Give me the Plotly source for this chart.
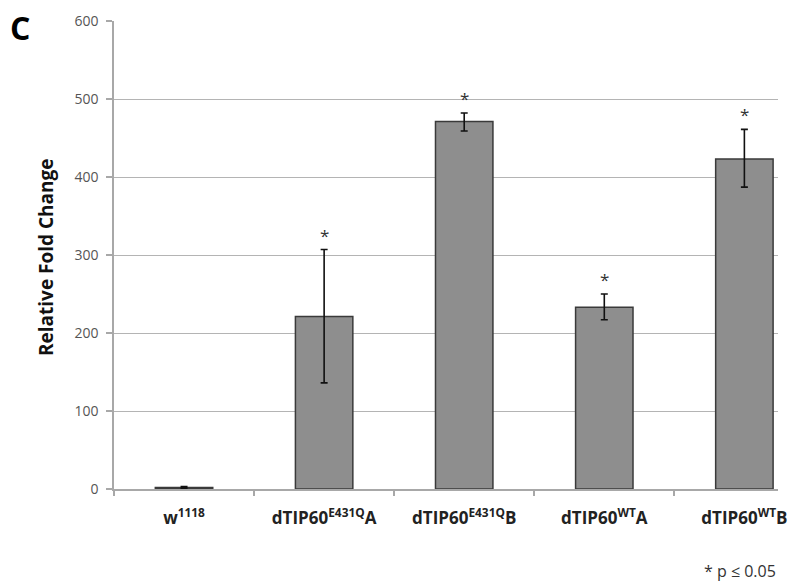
import plotly.graph_objects as go

categories = ["w<sup>1118</sup>", "dTIP60<sup>E431Q</sup>A", "dTIP60<sup>E431Q</sup>B",
              "dTIP60<sup>WT</sup>A", "dTIP60<sup>WT</sup>B"]
values = [2, 221, 471, 233, 423]
err_plus = [1, 86, 11, 17, 38]
err_minus = [1, 85, 12, 16, 36]
significant = [False, True, True, True, True]
y_ticks = [0, 100, 200, 300, 400, 500, 600]

fig = go.Figure()
fig.add_trace(go.Bar(
    x=categories, y=values, width=0.41,
    marker=dict(color="#8e8e8e", line=dict(color="#3a3a3a", width=1.5)),
    error_y=dict(type="data", array=err_plus, arrayminus=err_minus, symmetric=False,
                 color="#111111", thickness=1.6, width=3.5),
    showlegend=False,
))

for c, v, e, s in zip(categories, values, err_plus, significant):
    if s:
        fig.add_annotation(x=c, y=v + e, text="*", showarrow=False, yanchor="bottom",
                           yshift=1, font=dict(family="Open Sans", size=17, color="#333333"))

PW, PH, L, T = 664, 468.6, 114, 20.7


def px(x, y):
    return (x - L) / PW, (T + PH - y) / PH


x0, y0 = px(46, 257)
fig.add_annotation(text="Relative Fold Change", xref="paper", yref="paper",
                   x=x0, y=y0, showarrow=False, textangle=-90,
                   xanchor="center", yanchor="middle",
                   font=dict(family="Open Sans", size=19, color="#111111", weight="bold"))
x0, y0 = px(20, 27)
fig.add_annotation(text="C", xref="paper", yref="paper", x=x0, y=y0, showarrow=False,
                   xanchor="center", yanchor="middle",
                   font=dict(family="Open Sans", size=32, color="#000000", weight="bold"))
x0, y0 = px(740, 571)
fig.add_annotation(text="* p ≤ 0.05", xref="paper", yref="paper", x=x0, y=y0,
                   showarrow=False, xanchor="center", yanchor="middle",
                   font=dict(family="Open Sans", size=16, color="#333333"))

fig.update_layout(
    width=804, height=584,
    margin=dict(l=114, r=26, t=21, b=95, pad=0),
    plot_bgcolor="white", paper_bgcolor="white",
    xaxis=dict(
        type="category", range=[-0.5, 4.24],
        showline=True, linecolor="#a8a8a8", linewidth=1.5,
        ticks="outside", tickson="boundaries", ticklen=5, tickcolor="#a8a8a8", tickwidth=1.5,
        showgrid=False, ticklabelstandoff=13,
        tickfont=dict(family="Open Sans", size=17, color="#222222", weight="bold"),
    ),
    yaxis=dict(
        range=[0, 600], tickvals=y_ticks,
        showline=True, linecolor="#a8a8a8", linewidth=1.5,
        ticks="outside", ticklen=6, tickcolor="#a8a8a8", tickwidth=1.5,
        showgrid=True, gridcolor="#b4b4b4", gridwidth=1.2, zeroline=False,
        ticklabelstandoff=5,
        tickfont=dict(family="Open Sans", size=14, color="#555555"),
    ),
)

fig.write_html("out.html")
